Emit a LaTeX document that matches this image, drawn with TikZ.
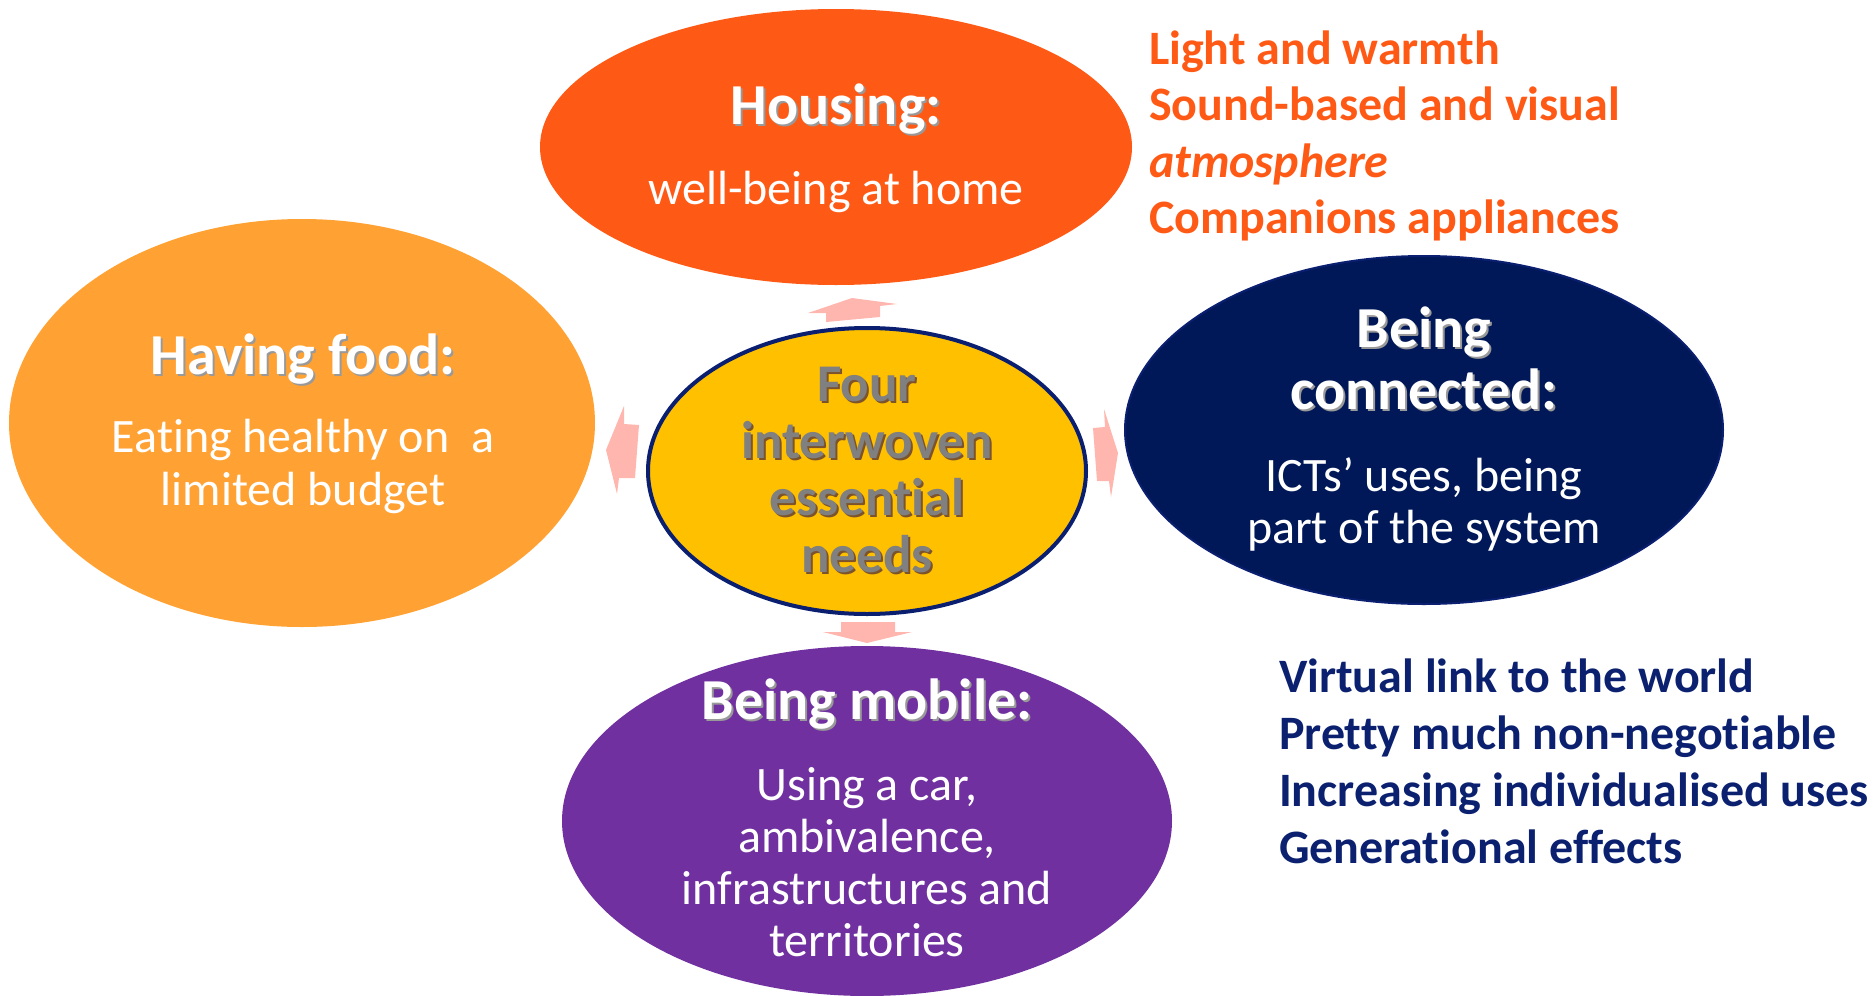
\documentclass[tikz,border=0pt]{standalone}
\usepackage{fontspec}
\setmainfont{Carlito}[Ligatures={NoCommon}]
\usetikzlibrary{shapes.geometric}

\definecolor{housecol}{HTML}{FE5A16}
\definecolor{foodcol}{HTML}{FFA233}
\definecolor{corecol}{HTML}{FFC000}
\definecolor{navyline}{HTML}{0B1F70}
\definecolor{netcol}{HTML}{011858}
\definecolor{movecol}{HTML}{7030A0}
\definecolor{arrowcol}{HTML}{FFB6AE}
\definecolor{listblue}{HTML}{0B2170}

\newcommand\shadowed[2][black!40]{\makebox[0pt][l]{\hspace{1pt}\raisebox{-1pt}{\textcolor{#1}{#2}}}#2}

\tikzset{
  need/.style={ellipse, inner sep=0pt},
  title/.style={anchor=base, text=white, font=\fontsize{29}{31}\selectfont\bfseries},
  body/.style={anchor=base, text=white, font=\fontsize{24}{26}\selectfont},
  coretext/.style={anchor=base, text=black!50, font=\fontsize{26.5}{29}\selectfont\bfseries},
  listitem/.style={anchor=base west, font=\fontsize{24}{28}\selectfont\bfseries},
}

\begin{document}
\begin{tikzpicture}[x=0.5pt,y=-0.5pt]
\useasboundingbox (0,0) rectangle (1876,996);

% the four needs
\node[need, fill=housecol, minimum width=296pt, minimum height=138pt] (housing) at (836,147) {};
\node[need, fill=foodcol, minimum width=293pt, minimum height=204pt] (food) at (302,423) {};
\node[need, fill=netcol, draw=navyline, line width=1pt, minimum width=299pt, minimum height=174pt] (connected) at (1424,430) {};
\node[need, fill=movecol, minimum width=305pt, minimum height=175pt] (mobile) at (867,821) {};
\node[need, fill=corecol, draw=navyline, line width=2pt, minimum width=219pt, minimum height=143pt] (core) at (867,471) {};

% arrows
\fill[arrowcol] (826,322) -- (826,313) -- (808,313) -- (852,298) -- (897,304) -- (880,306) -- (880,317) -- cycle;
\fill[arrowcol] (841,622) -- (895,622) -- (895,632) -- (912,632) -- (867,643) -- (823,632) -- (841,632) -- cycle;
\fill[arrowcol] (606,450) -- (624,406) -- (624,424) -- (639,425) -- (635,478) -- (619,478) -- (617,494) -- cycle;
\fill[arrowcol] (1118,453) -- (1104,409) -- (1105,427) -- (1093,428) -- (1097,481) -- (1109,481) -- (1111,497) -- cycle;

% texts
\node[title] (housingT) at (836,124) {\shadowed{Housing:}};
\node[body] (housingB) at (836,204) {well-being at home};

\node[title] (foodT) at (303,374) {\shadowed{Having food:}};
\node[body] (foodB1) at (303,452) {Eating healthy on~~a};
\node[body] (foodB2) at (303,505) {limited budget};

\node[title] (connectedT1) at (1424,347) {\shadowed{Being}};
\node[title] (connectedT2) at (1424,409) {\shadowed{connected:}};
\node[body] (connectedB1) at (1424,491) {ICTs’ uses, being};
\node[body] (connectedB2) at (1424,543) {part of the system};

\node[title] (mobileT) at (867,719) {\shadowed{Being mobile:}};
\foreach \t [count=\i] in {{Using a car,}, {ambivalence,}, {infrastructures and}, {territories}}
  \node[body] (mobileB\i) at (867,{800+52*(\i-1)}) {\t};

\foreach \t [count=\i] in {Four, interwoven, essential, needs}
  \node[coretext] (core\i) at (867,{401+57*(\i-1)}) {\shadowed[black!35!brown]{\t}};

% side lists
\foreach \t [count=\i] in {Light and warmth, Sound-based and visual, \textit{atmosphere}, Companions appliances}
  \node[listitem, text=housecol] (house\i) at (1142,{64+56.5*(\i-1)}) {\t};
\foreach \t [count=\i] in {Virtual link to the world, Pretty much non-negotiable, Increasing individualised uses, Generational effects}
  \node[listitem, text=listblue] (net\i) at (1272,{692+57*(\i-1)}) {\t};

\end{tikzpicture}
\end{document}
